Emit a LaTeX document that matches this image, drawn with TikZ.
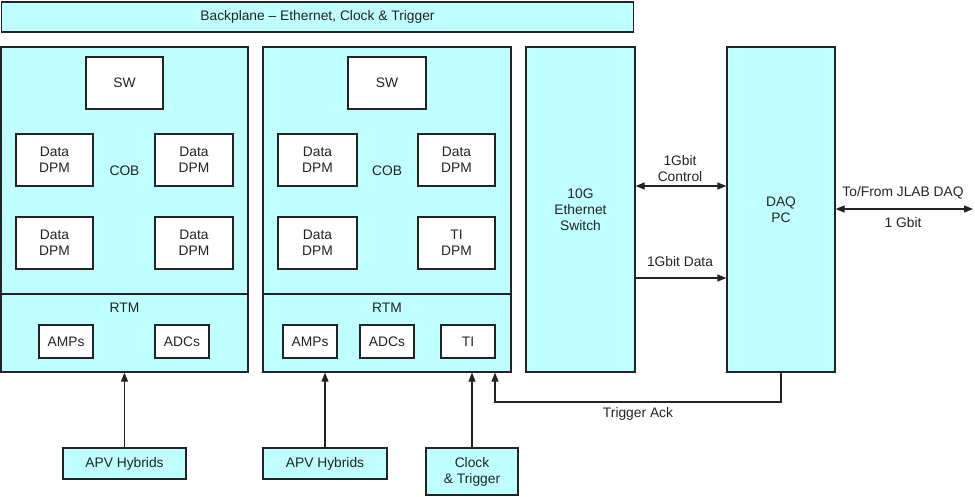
\documentclass[tikz,border=0pt]{standalone}
\usepackage{fontspec}
\setmainfont{Liberation Sans}
\usetikzlibrary{arrows.meta}
\definecolor{boardcyan}{RGB}{191,255,255}
\definecolor{ink}{RGB}{35,35,35}
\tikzset{
  dims/.style 2 args={minimum width=#1pt, minimum height=#2pt},
  board/.style={draw=ink, fill=boardcyan, line width=1.2pt, inner sep=0pt, align=center, text=ink},
  chip/.style={draw=ink, fill=white, line width=1.2pt, inner sep=0pt, align=center, text=ink},
  lbl/.style={inner sep=0pt, align=center, text=ink},
  sig/.style={draw=ink, line width=1.2pt, -{Triangle[length=9pt,width=7pt]}},
  bisig/.style={draw=ink, line width=1.2pt, {Triangle[length=9pt,width=7pt]}-{Triangle[length=9pt,width=7pt]}},
}
\begin{document}
\begin{tikzpicture}[x=1pt, y=-1pt, font=\fontsize{13.8}{16}\selectfont]
  \useasboundingbox (0,0) rectangle (975,496);
  % boards
  \node[board, dims={632}{30}] (bp) at (317.5,17) {Backplane -- Ethernet, Clock \& Trigger};
  \node[board, dims={247}{247}] (cob1) at (124.5,170.5) {COB};
  \node[board, dims={247}{78}] (rtm1) at (124.5,333) {};
  \node[board, dims={248}{247}] (cob2) at (387,170.5) {COB};
  \node[board, dims={248}{78}] (rtm2) at (387,333) {};
  \node[board, dims={109}{325}] (sw) at (580.5,209.5) {10G\\Ethernet\\Switch};
  \node[board, dims={108}{325}] (daq) at (781,209.5) {DAQ\\PC};
  \node[lbl] (rtm1t) at (124.5,308) {RTM};
  \node[lbl] (rtm2t) at (387,308) {RTM};
  % first crate slot
  \node[chip, dims={77}{52}] (sw1) at (124.5,83) {SW};
  \node[chip, dims={77}{52}] (d11) at (54.5,160) {Data\\DPM};
  \node[chip, dims={78}{52}] (d12) at (194,160) {Data\\DPM};
  \node[chip, dims={77}{52}] (d13) at (54.5,243) {Data\\DPM};
  \node[chip, dims={78}{52}] (d14) at (194,243) {Data\\DPM};
  \node[chip, dims={54}{33}] (amp1) at (66,341.5) {AMPs};
  \node[chip, dims={54}{33}] (adc1) at (182,341.5) {ADCs};
  % second crate slot
  \node[chip, dims={78}{52}] (sw2) at (387,83) {SW};
  \node[chip, dims={79}{52}] (d21) at (317.5,160) {Data\\DPM};
  \node[chip, dims={77}{52}] (d22) at (456.5,160) {Data\\DPM};
  \node[chip, dims={79}{52}] (d23) at (317.5,243) {Data\\DPM};
  \node[chip, dims={77}{52}] (d24) at (456.5,243) {TI\\DPM};
  \node[chip, dims={54}{33}] (amp2) at (310,341.5) {AMPs};
  \node[chip, dims={54}{33}] (adc2) at (387,341.5) {ADCs};
  \node[chip, dims={54}{33}] (ti2) at (468,341.5) {TI};
  % inputs
  \node[board, dims={123}{31}] (apv1) at (124.5,463.5) {APV Hybrids};
  \node[board, dims={124}{31}] (apv2) at (325,463.5) {APV Hybrids};
  \node[board, dims={92}{47}] (clk) at (472,471.5) {Clock\\\& Trigger};
  \coordinate (tack) at (495,402);
  \coordinate (jlab) at (973,209);
  \begin{scope}
    \draw[sig] (apv1.north) -- (apv1.north |- rtm1.south);
    \draw[sig] (apv2.north) -- (apv2.north |- rtm2.south);
    \draw[sig] (clk.north) -- (clk.north |- rtm2.south);
    \draw[sig] (daq.south) |- (tack) -- (tack |- rtm2.south);
    \draw[bisig] (sw.east |- 0,186) -- (daq.west |- 0,186);
    \draw[sig] (sw.east |- 0,278) -- (daq.west |- 0,278);
    \draw[bisig] (daq.east |- jlab) -- (jlab);
  \end{scope}
  \node[lbl] (ctl) at (680,169) {1Gbit\\Control};
  \node[lbl] (dat) at (680,262) {1Gbit Data};
  \node[lbl] (jl) at (903,193) {To/From JLAB DAQ};
  \node[lbl] (gb) at (903,223) {1 Gbit};
  \node[lbl] (ack) at (638,414) {Trigger Ack};
\end{tikzpicture}
\end{document}
